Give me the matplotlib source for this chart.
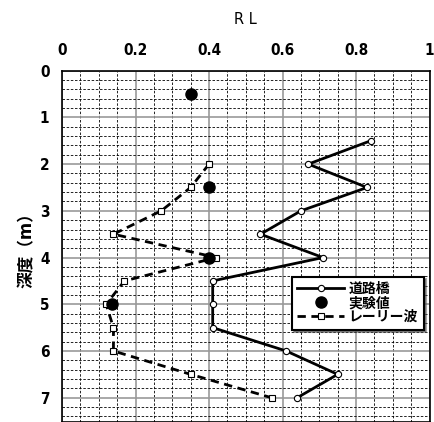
import matplotlib
matplotlib.use("Agg")
from matplotlib import pyplot as plt
from matplotlib.ticker import MultipleLocator

plt.rcParams['font.family'] = ['DejaVu Sans', 'Noto Sans CJK JP']

# 道路橋
depth_road = [1.5, 2.0, 2.5, 3.0, 3.5, 4.0, 4.5, 5.0, 5.5, 6.0, 6.5, 7.0]
rl_road = [0.84, 0.67, 0.83, 0.65, 0.54, 0.71, 0.41, 0.41, 0.41, 0.61, 0.75, 0.64]
# 実験値
depth_exp = [0.5, 2.5, 4.0, 5.0]
rl_exp = [0.35, 0.40, 0.40, 0.135]
# レーリー波
depth_ray = [2.0, 2.5, 3.0, 3.5, 4.0, 4.5, 5.0, 5.5, 6.0, 6.5, 7.0]
rl_ray = [0.40, 0.35, 0.27, 0.14, 0.42, 0.17, 0.12, 0.14, 0.14, 0.35, 0.57]

fig = plt.figure(figsize=(4.35, 4.22), dpi=100)
ax = fig.add_axes([0.1425, 0.0, 0.845, 0.8325])

ax.plot(rl_road, depth_road, '-', color='black', lw=2, marker='o', ms=4.5,
        mfc='white', mec='black', mew=0.8, label='道路橋', zorder=4)
ax.plot(rl_exp, depth_exp, 'o', color='black', ms=8, label='実験値', zorder=5)
ax.plot(rl_ray, depth_ray, '--', color='black', lw=2, dashes=(3, 2), marker='s', ms=5,
        mfc='white', mec='black', mew=0.8, label='レーリー波', zorder=4)

ax.set_xlim(0, 1)
ax.set_ylim(7.52, 0)
ax.xaxis.set_major_locator(MultipleLocator(0.2))
ax.xaxis.set_minor_locator(MultipleLocator(0.05))
ax.yaxis.set_major_locator(MultipleLocator(1))
ax.yaxis.set_minor_locator(MultipleLocator(0.2))
ax.xaxis.set_ticks_position('top')
ax.xaxis.set_label_position('top')
ax.set_xticks([0, 0.2, 0.4, 0.6, 0.8, 1.0])
ax.set_xticklabels(['0', '0.2', '0.4', '0.6', '0.8', '1'])
ax.tick_params(which='both', length=0, labelsize=11, pad=9)
for t in ax.get_xticklabels() + ax.get_yticklabels():
    t.set_fontweight('bold')
    t.set_fontstretch('condensed')

ax.grid(which='minor', color='black', ls=(0, (3, 2)), lw=0.6)
ax.grid(which='major', color='#999999', ls='-', lw=1.2)
ax.set_axisbelow(True)

ax.set_xlabel('R L', fontsize=10.5, labelpad=14)
ax.set_ylabel('深度（m）', fontsize=12, fontweight='bold', labelpad=3)

for s in ax.spines.values():
    s.set_linewidth(1.2)

leg = ax.legend(loc='upper left', bbox_to_anchor=(0.625, 0.414), shadow=True, fancybox=False,
                framealpha=1, edgecolor='black', handlelength=3.4, handletextpad=0.3,
                labelspacing=0.0, borderpad=0.4, borderaxespad=0,
                prop={'size': 10, 'weight': 'bold'})
leg.get_frame().set_linewidth(1.5)

plt.savefig('out.png', dpi=100)
